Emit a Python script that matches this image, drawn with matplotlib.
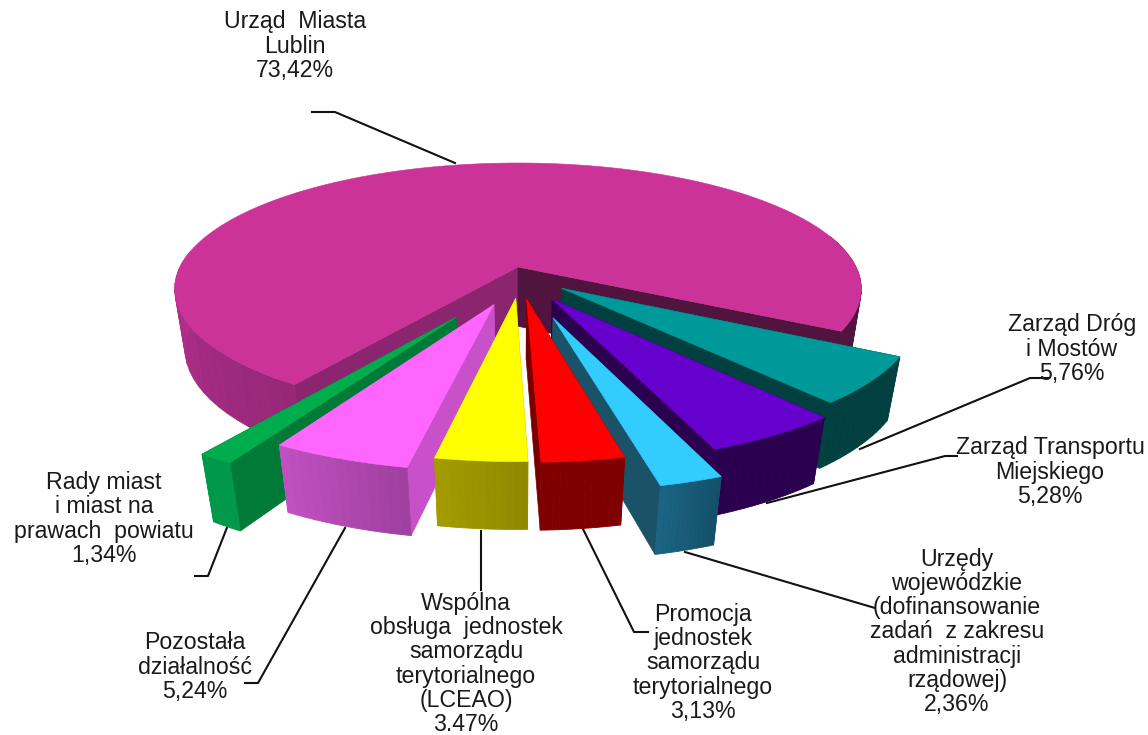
import numpy as np
import matplotlib
matplotlib.use('Agg')
import matplotlib.pyplot as plt
from matplotlib.colors import to_rgb
from matplotlib.patches import Polygon

plt.rcParams['font.family'] = ['Liberation Sans', 'DejaVu Sans']

values = [73.42, 5.76, 5.28, 2.36, 3.13, 3.47, 5.24, 1.34]
labels = ['Urząd  Miasta\nLublin\n73,42%',
          'Zarząd Dróg\ni Mostów\n5,76%',
          'Zarząd Transportu\nMiejskiego\n5,28%',
          'Urzędy\nwojewódzkie\n(dofinansowanie\nzadań  z zakresu\nadministracji\nrządowej)\n2,36%',
          'Promocja\njednostek\nsamorządu\nterytorialnego\n3,13%',
          'Wspólna\nobsługa  jednostek\nsamorządu\nterytorialnego\n(LCEAO)\n3.47%',
          'Pozostała\ndziałalność\n5,24%',
          'Rady miast\ni miast na\nprawach  powiatu\n1,34%']
label_xy = [(295, 46), (1072, 349), (1050, 472), (957, 632),
            (703, 663), (466, 664), (195, 667), (104, 519)]
leaders = [[(312, 112), (335, 112), (455, 163)],
           [(860, 449), (1030, 378), (1048, 378)],
           [(767, 503), (945, 456), (957, 456)],
           [(685, 552), (875, 608)],
           [(582, 527), (634, 632), (648, 632)],
           [(481, 531), (481, 590)],
           [(345, 528), (258, 683), (245, 683)],
           [(228, 525), (208, 576), (195, 576)]]

explode = [0, 0.21, 0.27, 0.40, 0.25, 0.245, 0.30, 0.42]
explode_dir = [0, 53.5, 69, 76, 84.5, 91.5, 103, 114]
top_col = ['#CC3399', '#009999', '#6600CC', '#33CCFF', '#FF0000', '#FFFF00', '#FF66FF', '#00AD4D']
wall_a = ['#8B2570', '#004040', '#2A004F', '#1A5268', '#7A0000', '#A39B00', '#C850C8', '#007A37']
wall_b = ['#50143F', '#004040', '#2A004F', '#1A5268', '#7A0000', '#A39B00', '#C850C8', '#007A37']
side_a = ['#962878', '#004040', '#2A004F', '#14506A', '#800000', '#8F8A00', '#A040A0', '#00994A']
side_b = ['#B5308F', '#004040', '#2A004F', '#1B6484', '#800000', '#A39B00', '#C050C0', '#00994A']
draw_order = [0, 1, 2, 3, 4, 7, 6, 5]

START = 124.5
CX, CY = 518, 267
RX, RY, H = 338, 122.2, 61
K, M = 0.175, 0.03


def project(u, v, z):
    w = 1 - K * v + M * z
    return np.column_stack([CX + RX * u / w, CY + (RY * v + H * z) / w])


def quad_strip(ax, ox, oy, ang, ca, cb, z):
    # outer face, cut in thin pieces so the colour can change along the rim
    ca, cb = np.array(to_rgb(ca)), np.array(to_rgb(cb))
    for i in range(len(ang) - 1):
        a0, a1 = np.radians(ang[i]), np.radians(ang[i + 1])
        u = ox + np.cos([a0, a1])
        v = oy + np.sin([a0, a1])
        p = np.vstack([project(u, v, 0), project(u, v, 1)[::-1]])
        t = i / max(len(ang) - 2, 1)
        c = ca + (cb - ca) * t
        ax.add_patch(Polygon(p, closed=True, fc=c, ec=c, lw=0.6, zorder=z))


def wall(ax, ox, oy, ang, col, z):
    a = np.radians(ang)
    u = np.array([ox, ox + np.cos(a)])
    v = np.array([oy, oy + np.sin(a)])
    p = np.vstack([project(u, v, 0), project(u, v, 1)[::-1]])
    ax.add_patch(Polygon(p, closed=True, fc=col, ec=col, lw=0.5, zorder=z))


fig = plt.figure(figsize=(11.48, 7.35), dpi=100)
fig.patch.set_facecolor('white')
ax = fig.add_axes([0, 0, 1, 1])
ax.set_xlim(0, 1148)
ax.set_ylim(735, 0)
ax.axis('off')

for pts in leaders:
    ax.plot([p[0] for p in pts], [p[1] for p in pts], color='#111111', lw=1.5, zorder=1)

edges = START + np.cumsum([0] + values) * 3.6
z = 2
for i in draw_order:
    a0, a1 = edges[i], edges[i + 1]
    d = np.radians(explode_dir[i])
    ox, oy = explode[i] * np.cos(d), explode[i] * np.sin(d)
    wall(ax, ox, oy, a0, wall_a[i], z)
    wall(ax, ox, oy, a1, wall_b[i], z)
    if i == 0:
        # only the left front and the far right of the big slice show
        quad_strip(ax, ox, oy, np.arange(a0, 190, 3), side_a[i], side_b[i], z + 1)
        quad_strip(ax, ox, oy, np.linspace(345, a1, 16), wall_b[i], wall_b[i], z + 1)
    else:
        quad_strip(ax, ox, oy, np.linspace(a0, a1, 14), side_a[i], side_b[i], z + 1)
    ang = np.radians(np.linspace(a0, a1, 200))
    u = np.r_[ox, ox + np.cos(ang)]
    v = np.r_[oy, oy + np.sin(ang)]
    ax.add_patch(Polygon(project(u, v, 0), closed=True, fc=top_col[i], ec=top_col[i],
                         lw=0.4, zorder=z + 2))
    z += 3

for lab, (x, y) in zip(labels, label_xy):
    ax.text(x, y, lab, ha='center', va='center', fontsize=16.7, color='#1a1a1a',
            linespacing=1.06, zorder=60)

fig.savefig('out.png', dpi=100, facecolor='white')
